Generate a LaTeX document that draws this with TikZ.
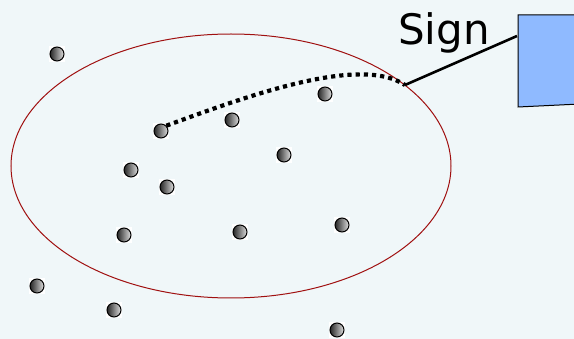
\documentclass[tikz,border=0pt]{standalone}
\usepackage{fontspec}
\setmainfont{DejaVu Sans}
\usetikzlibrary{shapes.geometric}
\definecolor{bg}{HTML}{F0F7F9}
\definecolor{boxblue}{HTML}{8FBAFF}
\definecolor{ellred}{HTML}{A01010}
\tikzset{
  ball/.style={circle, draw=black, line width=1pt, minimum size=14pt, inner sep=0pt, left color=black!85, right color=gray!25},
  ballbg/.style={fill=white, minimum size=16pt, inner sep=0pt},
}
\begin{document}
\begin{tikzpicture}[x=1pt,y=-1pt]
\fill[bg] (0,0) rectangle (574,339);
\useasboundingbox (0,0) rectangle (574,339);
\node[draw=ellred, line width=1pt, ellipse, minimum width=440pt, minimum height=264pt, inner sep=0pt] (ell) at (231,166) {};
\draw[black, line width=1pt, fill=boxblue] (518,15) -- (580,15) -- (580,104) -- (518,107) -- cycle;
\coordinate (boxp) at (517,36);
\coordinate (edge) at (405,85);
\node[anchor=base, font=\fontsize{42}{42}\selectfont, inner sep=0pt] (sign) at (444,45) {Sign};
\foreach \n/\x/\y in {a/57/54, b/161/131, c/232/120, d/325/94, e/284/155, f/131/170, g/167/187, h/124/235, i/240/232, j/342/225, k/37/286, l/114/310, m/337/330} {
  \node[ballbg] at (\x,\y) {};
  \node[ball] (\n) at (\x,\y) {};
}
\draw[line width=4.2pt, dash pattern=on 4.2pt off 4pt] (b.north east) .. controls (250,95) and (360,55) .. (edge);
\draw[line width=2.6pt] (edge) -- (boxp);
\end{tikzpicture}
\end{document}
